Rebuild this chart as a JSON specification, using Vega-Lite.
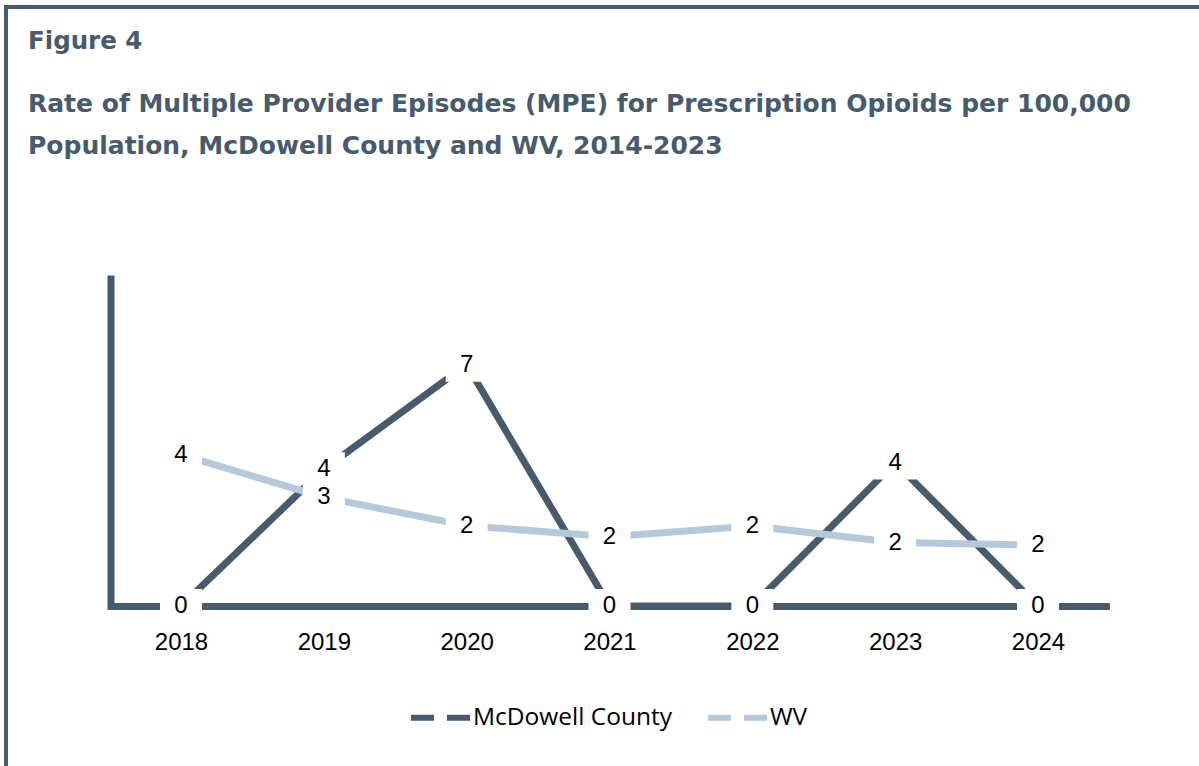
{
  "$schema": "https://vega.github.io/schema/vega-lite/v6.json",
  "width": 1197,
  "height": 763,
  "autosize": "none",
  "padding": {"left": 6, "top": 7, "right": 0, "bottom": 0},
  "background": "white",
  "config": {
    "view": {"stroke": "#475b6c", "strokeWidth": 4},
    "font": "Liberation Sans"
  },
  "title": {
    "text": "Figure 4",
    "subtitle": ["Rate of Multiple Provider Episodes (MPE) for Prescription Opioids per 100,000", "Population, McDowell County and WV, 2014-2023"],
    "anchor": "start",
    "frame": "group",
    "orient": "top",
    "offset": -153,
    "dx": 22,
    "font": "DejaVu Sans",
    "fontSize": 24.5,
    "fontWeight": "bold",
    "color": "#475b6c",
    "subtitleFont": "DejaVu Sans",
    "subtitleFontSize": 25,
    "subtitleFontWeight": "bold",
    "subtitleColor": "#475b6c",
    "subtitleLineHeight": 42,
    "subtitlePadding": 38
  },
  "data": {
    "values": [
      {"year": "2018", "series": "McDowell County", "value": 0},
      {"year": "2019", "series": "McDowell County", "value": 3.97},
      {"year": "2020", "series": "McDowell County", "value": 7.0},
      {"year": "2021", "series": "McDowell County", "value": 0},
      {"year": "2022", "series": "McDowell County", "value": 0},
      {"year": "2023", "series": "McDowell County", "value": 4.16},
      {"year": "2024", "series": "McDowell County", "value": 0},
      {"year": "2018", "series": "WV", "value": 4.39},
      {"year": "2019", "series": "WV", "value": 3.15},
      {"year": "2020", "series": "WV", "value": 2.33},
      {"year": "2021", "series": "WV", "value": 2.01},
      {"year": "2022", "series": "WV", "value": 2.32},
      {"year": "2023", "series": "WV", "value": 1.84},
      {"year": "2024", "series": "WV", "value": 1.77}
    ]
  },
  "encoding": {
    "x": {
      "field": "year",
      "type": "ordinal",
      "scale": {"type": "point", "padding": 0.5, "range": [103.6, 1103.4]},
      "axis": {
        "title": null,
        "orient": "bottom",
        "offset": -164,
        "domainColor": "#475b6c",
        "domainWidth": 7,
        "domainCap": "butt",
        "ticks": false,
        "tickSize": 0,
        "grid": false,
        "labelAngle": 0,
        "labelFontSize": 24,
        "labelFont": "Liberation Sans",
        "labelColor": "#000000",
        "labelBaseline": "middle",
        "labelPadding": 36,
        "zindex": 0
      }
    },
    "y": {
      "field": "value",
      "type": "quantitative",
      "scale": {"domain": [0, 9.5], "range": [599, 271.5], "nice": false, "zero": true},
      "axis": {
        "title": null,
        "orient": "left",
        "offset": -104.5,
        "domainColor": "#475b6c",
        "domainWidth": 7,
        "domainCap": "square",
        "ticks": false,
        "labels": false,
        "grid": false,
        "zindex": 0
      }
    }
  },
  "layer": [
    {
      "mark": {"type": "line", "strokeWidth": 7, "strokeCap": "butt"},
      "encoding": {
        "color": {
          "field": "series",
          "type": "nominal",
          "scale": {"domain": ["McDowell County", "WV"], "range": ["#475b6c", "#b6c9db"]},
          "legend": {
            "orient": "none",
            "legendX": 402,
            "legendY": 678,
            "direction": "horizontal",
            "title": null,
            "symbolType": "stroke",
            "symbolStrokeWidth": 6,
            "symbolSize": 3481,
            "symbolDash": [23, 13],
            "labelFontSize": 24.5,
            "labelFont": "Open Sans",
            "labelColor": "#000000",
            "labelOffset": 0,
            "labelLimit": 0,
            "columnPadding": 24
          }
        }
      }
    },
    {
      "mark": {
        "type": "point",
        "shape": "M-1.235,-1H1.235V1H-1.235Z",
        "size": 1156,
        "filled": true,
        "fill": "#ffffff",
        "opacity": 1,
        "strokeWidth": 0
      }
    },
    {
      "mark": {"type": "text", "fontSize": 24, "font": "Liberation Sans", "color": "#000000", "baseline": "middle", "align": "center"},
      "encoding": {
        "text": {"field": "value", "type": "quantitative", "format": ".0f"}
      }
    }
  ]
}
